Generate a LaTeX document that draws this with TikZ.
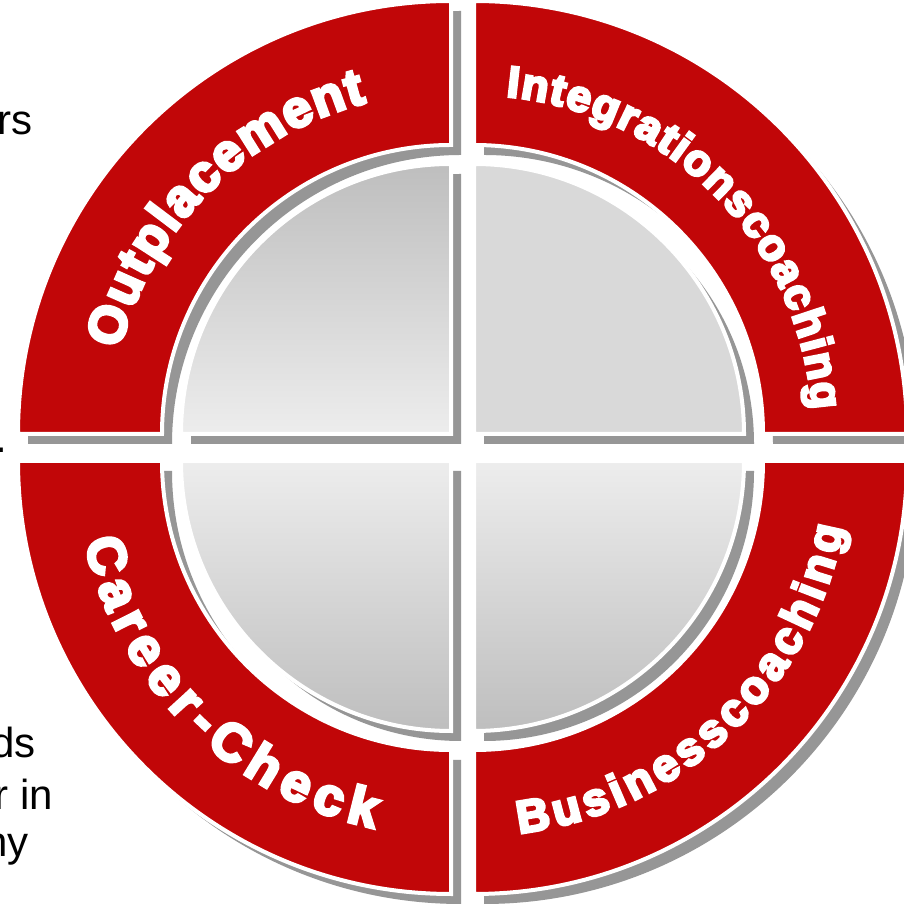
\documentclass[tikz,border=0pt]{standalone}
\usepackage{fontspec}
\setmainfont{Liberation Sans}
\newfontfamily\arcfont{Liberation Sans Bold}[FakeBold=6]
\usetikzlibrary{decorations.text}
\definecolor{segred}{RGB}{193,6,8}
\definecolor{shadowgray}{RGB}{150,150,150}
\definecolor{discA}{RGB}{190,190,190}
\definecolor{discB}{RGB}{237,237,237}
\definecolor{discFlat}{RGB}{217,217,217}
\begin{document}
\begin{tikzpicture}[x=1pt,y=1pt,
  redseg/.style={fill=segred, draw=white, line width=4pt},
  discseg/.style={draw=white, line width=4pt},
  sidetext/.style={anchor=base east, inner sep=0pt, font=\fontsize{42}{48}\selectfont, text=black},
  arctext/.style 2 args={decorate, decoration={text along path, text align={fit to path},
      text={|\arcfont\fontsize{#1}{#1}\selectfont\color{white}|#2}}}
]
\useasboundingbox (0,0) rectangle (904,904);
\fill[white] (0,0) rectangle (904,904);

% ---------- shadows ----------
\begin{scope}[shift={(461,460)}]
  \fill[shadowgray] (180:433) arc[start angle=180,end angle=90,radius=433] -- (90:289) arc[start angle=90,end angle=180,radius=289] -- cycle;
  \fill[shadowgray] (0,0) -- (180:270) arc[start angle=180,end angle=90,radius=270] -- cycle;
\end{scope}
\begin{scope}[shift={(484,460)}]
  \fill[shadowgray] (90:433) arc[start angle=90,end angle=0,radius=433] -- (0:289) arc[start angle=0,end angle=90,radius=289] -- cycle;
  \fill[shadowgray] (0,0) -- (90:270) arc[start angle=90,end angle=0,radius=270] -- cycle;
\end{scope}
\begin{scope}[shift={(461,433)}]
  \fill[shadowgray] (180:433) arc[start angle=180,end angle=270,radius=433] -- (270:289) arc[start angle=270,end angle=180,radius=289] -- cycle;
  \fill[shadowgray] (0,0) -- (180:270) arc[start angle=180,end angle=270,radius=270] -- cycle;
\end{scope}
\begin{scope}[shift={(484,433)}]
  \fill[shadowgray] (270:433) arc[start angle=270,end angle=360,radius=433] -- (0:289) arc[start angle=360,end angle=270,radius=289] -- cycle;
  \fill[shadowgray] (0,0) -- (270:270) arc[start angle=270,end angle=360,radius=270] -- cycle;
\end{scope}

% ---------- top left ----------
\begin{scope}[shift={(451,470)}]
  \draw[redseg] (180:433) arc[start angle=180,end angle=90,radius=433] -- (90:289) arc[start angle=90,end angle=180,radius=289] -- cycle;
  \draw[discseg, top color=discA, bottom color=discB] (0,0) -- (180:270) arc[start angle=180,end angle=90,radius=270] -- cycle;
  \path[arctext={52}{Outplacement}] (165.7:342) arc[start angle=165.7,end angle=104.3,radius=342];
\end{scope}

% ---------- top right ----------
\begin{scope}[shift={(474,470)}]
  \draw[redseg] (90:433) arc[start angle=90,end angle=0,radius=433] -- (0:289) arc[start angle=0,end angle=90,radius=289] -- cycle;
  \draw[discseg, fill=discFlat] (0,0) -- (90:270) arc[start angle=90,end angle=0,radius=270] -- cycle;
  \path[arctext={44}{Integrationscoaching}] (84.6:339) arc[start angle=84.6,end angle=4.1,radius=339];
\end{scope}

% ---------- bottom left ----------
\begin{scope}[shift={(451,443)}]
  \draw[redseg] (180:433) arc[start angle=180,end angle=270,radius=433] -- (270:289) arc[start angle=270,end angle=180,radius=289] -- cycle;
  \draw[discseg, top color=discB, bottom color=discA] (0,0) -- (180:270) arc[start angle=180,end angle=270,radius=270] -- cycle;
  \path[arctext={53}{Career-Check}] (192.4:375) arc[start angle=192.4,end angle=258.1,radius=375];
\end{scope}

% ---------- bottom right ----------
\begin{scope}[shift={(474,443)}]
  \draw[redseg] (270:433) arc[start angle=270,end angle=360,radius=433] -- (0:289) arc[start angle=360,end angle=270,radius=289] -- cycle;
  \draw[discseg, top color=discB, bottom color=discA] (0,0) -- (270:270) arc[start angle=270,end angle=360,radius=270] -- cycle;
  \path[arctext={46}{Businesscoaching}] (276.9:375) arc[start angle=276.9,end angle=349.8,radius=375];
\end{scope}

% ---------- cut-off side text ----------
\node[sidetext] (t1) at (33,769) {rs};
\node[sidetext] (t2) at (7,451) {.};
\node[sidetext] (t3) at (36,146) {ds};
\node[sidetext] (t4) at (53,94) {r in};
\node[sidetext] (t5) at (29,47) {hy};
\end{tikzpicture}
\end{document}
